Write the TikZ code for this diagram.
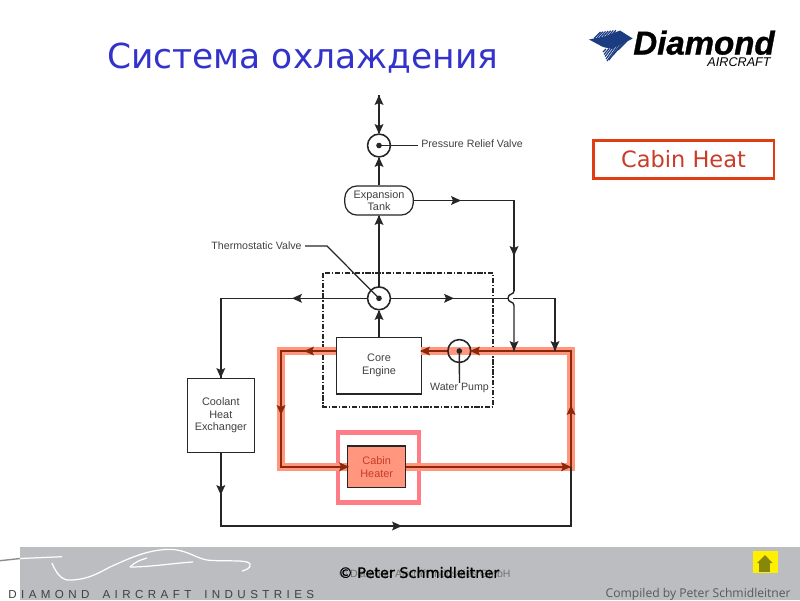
\documentclass[tikz,border=0pt]{standalone}
\usepackage{fontspec}
\setmainfont{Liberation Sans}
\newfontfamily\verdanafont{DejaVu Sans}
\newfontfamily\copyfont[FakeBold=1.2]{DejaVu Sans}
\newfontfamily\footfont{Open Sans}
\newfontfamily\bandfont[LetterSpace=38,WordSpace=1.7]{Liberation Sans}
\newfontfamily\logofont[BoldItalicFeatures={FakeBold=1}]{Liberation Sans}
\usetikzlibrary{calc}

\definecolor{titleblue}{RGB}{51,51,204}
\definecolor{logoblue}{RGB}{28,60,130}
\definecolor{bandgray}{RGB}{187,189,192}
\definecolor{flowglow}{RGB}{255,150,125}
\definecolor{flowdark}{RGB}{140,40,10}
\definecolor{framepink}{RGB}{255,125,135}
\definecolor{heatbox}{RGB}{255,150,125}
\definecolor{labelgray}{RGB}{65,65,65}
\definecolor{heatred}{RGB}{225,60,20}
\definecolor{heattext}{RGB}{200,60,40}
\definecolor{homeolive}{RGB}{135,135,10}

\tikzset{
    pipe/.style={line width=0.8pt,black!85},
    hotpipe/.style={line width=1.4pt,flowdark},
    glow/.style={line width=4.5pt,flowglow},
    unitbox/.style={draw=black!85,line width=0.7pt,fill=white,align=center,text=labelgray,
        font=\fontsize{6.2}{7.2}\selectfont,inner sep=0pt},
    valve/.style={circle,draw=black!85,line width=0.9pt,minimum size=13pt,inner sep=0pt},
    tag/.style={text=labelgray,font=\fontsize{6.05}{7.2}\selectfont,inner sep=0pt},
    swoosh/.style={white,line width=0.7pt}
}

\begin{document}
\begin{tikzpicture}[x=0.02cm,y=-0.02cm]
    \useasboundingbox (0,0) rectangle (800,600);

    % Bottom band
    \fill[bandgray] (20,547) rectangle (800,600);
    \draw[black!45,line width=0.8pt] (0,560.7) -- (20,558.5);
    \draw[swoosh] (20,558.5) -- (62,556.7);
    \draw[swoosh] (52,563) .. controls (58,578) and (65,581) .. (72,580)
        .. controls (90,579) and (100,572) .. (110,567)
        .. controls (130,558) and (145,551) .. (165,549.5)
        .. controls (185,548) and (195,558) .. (207,560)
        .. controls (225,562) and (248,559) .. (250,564)
        .. controls (251,568) and (246,570) .. (242,571);
    \draw[swoosh] (130,567) .. controls (135,562) and (140,560) .. (147,558);
    \draw[swoosh] (130,567) .. controls (150,567) and (175,563) .. (193,562);
    \node[inner sep=0pt,anchor=west,text=black!75,font=\bandfont\fontsize{6.6}{8}\selectfont] (bandname) at (8,594)
        {DIAMOND AIRCRAFT INDUSTRIES};
    \node[inner sep=0pt,anchor=west,text=black!55,font=\fontsize{6}{7}\selectfont] (bandfirm) at (339,573.5)
        {© Diamond Aircraft Industries GmbH};
    \node[inner sep=0pt,anchor=west,font=\copyfont\fontsize{8.2}{9}\selectfont] (bandcopy) at (338,572.5)
        {© Peter Schmidleitner};
    \node[inner sep=0pt,anchor=east,text=black!65,font=\footfont\fontsize{6.9}{8}\selectfont] (bandauthor) at (791,594)
        {Compiled by Peter Schmidleitner};
    \fill[yellow!98!orange] (752.7,551) rectangle (777.7,573);
    \fill[homeolive] (757,563) -- (765,555) -- (772.5,563) -- cycle;
    \fill[homeolive] (759,563) rectangle (770,572);

    % Title
    \node[inner sep=0pt,anchor=west,text=titleblue,font=\verdanafont\fontsize{19.6}{24}\selectfont] (title) at (107,58.5)
        {Система охлаждения};

    % Logo
    \fill[logoblue] (589,39.5) -- (606,36) -- (620,30.5) -- (632.7,38.5) -- (612,49) -- (603,47) -- cycle;
    \foreach \s in {0,3,...,18} {
        \draw[logoblue,line width=0.7pt] (594+\s,38.5-\s*0.2) -- (600.5+\s*0.85,32-\s*0.1);
    }
    \foreach \xa/\ya/\xb/\yb in {606/49/603/52,609/48.5/604/54.5,612/47.5/605/56.5,615/46.5/606/59,
        618/45.5/607/61,621/44/609/60,624/42.5/613/55,627/41/618/50} {
        \draw[logoblue,line width=0.7pt] (\xa,\ya) -- (\xb,\yb);
    }
    \node[inner sep=0pt,anchor=base west,font=\logofont\bfseries\itshape\fontsize{18.8}{20}\selectfont] (logoname) at (633,54.5) {Diamond};
    \node[inner sep=0pt,anchor=east,font=\itshape\fontsize{7.2}{8}\selectfont] (logosub) at (771,62) {AIRCRAFT};

    % Cabin Heat
    \node[draw=heatred,line width=1.5pt,minimum width=102.8pt,minimum height=21.5pt,inner sep=0pt,
        text=heattext,font=\verdanafont\fontsize{12.8}{14}\selectfont] (cabinheat) at (683.5,159.5) {Cabin Heat};

    % Engine housing
    \draw[black!85,line width=0.8pt,densely dashdotted] (323,273) rectangle (493,407);

    % Units
    \node[unitbox,rounded corners=7pt,minimum width=39pt,minimum height=16.6pt] (tank) at (379,200.5) {Expansion\\Tank};
    \node[unitbox,minimum width=48pt,minimum height=32.3pt] (core) at (379,365.5) {Core\\Engine};
    \node[unitbox,minimum width=38pt,minimum height=41.7pt] (cooler) at (220.8,415.5) {Coolant\\Heat\\Exchanger};
    \node[draw=framepink,line width=2.7pt,minimum width=46.2pt,minimum height=39.6pt] (heaterframe) at (378.5,467.4) {};
    \node[unitbox,fill=heatbox,text=heattext,minimum width=32.9pt,minimum height=23.6pt] (heater) at (376.7,466.8) {Cabin\\Heater};

    % Points on the circuit
    \coordinate (vent) at (379,95);
    \coordinate (coreE) at (421,351);
    \coordinate (coreW) at (336,351);
    \coordinate (NE) at (571,351);
    \coordinate (NW) at (281,351);
    \coordinate (bypassS) at (514,351);
    \coordinate (radS) at (555,351);
    \coordinate (bumpN) at (514,291);
    \coordinate (bumpS) at (514,305.5);
    \coordinate (bumpW) at (508,298.3);
    \coordinate (bumpE) at (513,298.3);
    \coordinate (SE) at (571,526);
    \coordinate (coreN) at (379,337);

    % Cabin heat loop
    \draw[glow,line join=miter] (coreW) -- (NW) |- (heater.west);
    \draw[glow,line join=miter] (heater.east) -| (NE) -- (coreE);

    \node[valve] (relief) at (379,145.5) {};
    \node[valve] (thermo) at (379,298.3) {};
    \node[valve] (pump) at (459.3,351) {};
    \foreach \p in {relief,thermo,pump} {\fill[black!85] (\p) circle (1.6pt);}

    \draw[hotpipe] (coreW) -- (NW) |- (heater.west);
    \draw[hotpipe] (heater.east) -| (NE) -- (pump.east);
    \draw[hotpipe] (pump.west) -- (coreE);

    % Coolant lines
    \draw[pipe] (vent) -- (relief.north);
    \draw[pipe] (tank.north) -- (relief.south);
    \draw[pipe] (thermo.north) -- (tank.south);
    \draw[pipe] (coreN) -- (thermo.south);
    \draw[pipe] (tank.east) -| (bumpN);
    \draw[pipe] (bumpN) .. controls (514,295) and (508,293) .. (bumpW) .. controls (508,303) and (514,301) .. (bumpS) -- (bypassS);
    \draw[pipe] (thermo.west) -| (cooler.north);
    \draw[pipe] (thermo.east) -- (bumpW);
    \draw[pipe] (bumpE) -| (radS);
    \draw[pipe] (cooler.south) |- (SE) -- (NE |- heater.east);

    % Arrow heads
    \foreach \x/\y/\a in {379/100/90,379/129/-90,379/162/90,379/220/90,456/200.5/0,514/251/-90,297/298.3/180,449/298.3/0,
        379/315/90,220.8/373/-90,220.8/490/-90,397/526/0,514/346/-90,555/346/-90}
        {\fill[black!85,shift={(\x,\y)},rotate=\a] (5,0) -- (-5,4.5) -- (-3,0) -- (-5,-4.5) -- cycle;}
    \foreach \x/\y/\a in {309/351/180,281/410/-90,344/466.8/0,566/466.8/0,571/410/90,425/351/180,475/351/180}
        {\fill[flowdark,shift={(\x,\y)},rotate=\a] (5,0) -- (-5,4.5) -- (-3,0) -- (-5,-4.5) -- cycle;}

    % Labels
    \node[tag,anchor=west] (relieftag) at (421,144) {Pressure Relief Valve};
    \coordinate (reliefend) at (418,145.5);
    \draw[pipe] (relief.center) -- (reliefend);
    \node[tag,anchor=east] (thermotag) at (302,246) {Thermostatic Valve};
    \coordinate (thermostart) at (305,246);
    \coordinate (thermobend) at (327,246);
    \draw[pipe,line width=0.7pt] (thermostart) -- (thermobend) -- (thermo.center);
    \node[tag] (pumptag) at (459.5,388) {Water Pump};
    \draw[pipe] (pump.center) -- (pumptag.north);
\end{tikzpicture}
\end{document}
